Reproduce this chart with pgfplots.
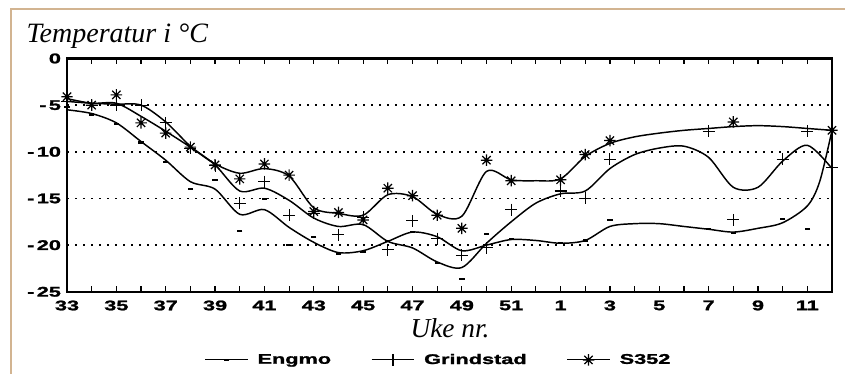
\documentclass[border=0pt]{standalone}
\usepackage{pgfplots}
\pgfplotsset{compat=1.18}
\usepackage{fontspec}
\setmainfont{Liberation Serif}
\newfontfamily\tickfont{Liberation Sans}[FakeStretch=1.55, FakeBold=1.6]
\definecolor{frametan}{RGB}{210,180,145}
\pgfdeclareplotmark{ast8}{%
  \pgfpathmoveto{\pgfqpoint{-\pgfplotmarksize}{0pt}}\pgfpathlineto{\pgfqpoint{\pgfplotmarksize}{0pt}}%
  \pgfpathmoveto{\pgfqpoint{0pt}{-\pgfplotmarksize}}\pgfpathlineto{\pgfqpoint{0pt}{\pgfplotmarksize}}%
  \pgfpathmoveto{\pgfqpoint{-.72\pgfplotmarksize}{-.72\pgfplotmarksize}}\pgfpathlineto{\pgfqpoint{.72\pgfplotmarksize}{.72\pgfplotmarksize}}%
  \pgfpathmoveto{\pgfqpoint{-.72\pgfplotmarksize}{.72\pgfplotmarksize}}\pgfpathlineto{\pgfqpoint{.72\pgfplotmarksize}{-.72\pgfplotmarksize}}%
  \pgfusepathqstroke}
\begin{document}
\begin{tikzpicture}
\path[use as bounding box] (0,0) rectangle (633.75pt,280.5pt);
\draw[frametan, line width=1.2pt] (8.25pt,0pt) -- (8.25pt,273.75pt) -- (633.75pt,273.75pt);
\node[anchor=base west, font=\itshape\fontsize{21}{24}\selectfont] at (16.5pt,248.25pt) {Temperatur i °C};
\node[anchor=base, font=\itshape\fontsize{20.5}{24}\selectfont] at (337.5pt,27pt) {Uke nr.};
\begin{axis}[
  at={(50.25pt,61.65pt)}, anchor=south west,
  width=573.75pt, height=175pt, scale only axis,
  clip=false,
  xmin=0, xmax=31, ymin=-25, ymax=0,
  xtick={0,...,31},
  xticklabels={33,{},35,{},37,{},39,{},41,{},43,{},45,{},47,{},49,{},51,{},1,{},3,{},5,{},7,{},9,{},11,{}},
  ytick={-25,-20,-15,-10,-5,0},
  yticklabels={-\,25,-\,20,-\,15,-\,10,-\,5,0},
  tick align=inside,
  major tick length=4pt,
  xtick style={black, line width=0.9pt},
  ytick style={draw=none},
  xticklabel style={font=\tickfont\bfseries\fontsize{10.5}{12}\selectfont, yshift=-3pt},
  yticklabel style={font=\tickfont\bfseries\fontsize{10.5}{12}\selectfont, xshift=-1pt},
  axis line style={line width=1.7pt},
  ymajorgrids,
  grid style={black, line width=1.2pt, dash pattern=on 1.2pt off 4.8pt},
  legend style={at={(0.486,-0.292)}, anchor=center, draw=none, fill=none,
    font=\tickfont\bfseries\fontsize{10.5}{12}\selectfont, inner sep=0pt,
    /tikz/every odd column/.append style={column sep=5pt},
    /tikz/every even column/.append style={column sep=28pt}},
  legend columns=3,
  legend image code/.code={\draw[mark repeat=2,mark phase=2,#1] plot coordinates {(0pt,0pt)(16pt,0pt)(32pt,0pt)};},
]
\addlegendimage{black, line width=0.8pt, mark=-, mark size=2pt, mark options={line width=1.6pt}}
\addlegendentry{Engmo}
\addlegendimage{black, line width=0.8pt, mark=+, mark size=4.5pt, mark options={line width=0.8pt}}
\addlegendentry{Grindstad}
\addlegendimage{black, line width=0.8pt, mark=ast8, mark size=4.3pt, mark options={line width=0.9pt}}
\addlegendentry{S352}

% Engmo curve
\addplot[forget plot, black, line width=1.1pt, smooth, no marks] coordinates {
(0,-5.5)(1,-5.9)(2,-6.9)(3,-8.9)(4,-10.9)(5,-13.2)(6,-14.0)(7,-16.7)(8,-16.2)(9,-18.1)
(10,-19.7)(11,-20.8)(12,-20.6)(13,-19.6)(14,-18.6)(15,-19.1)(16,-20.6)(17,-20.0)(18,-19.4)(19,-19.5)
(20,-19.8)(21,-19.5)(22,-18.0)(23,-17.7)(24,-17.7)(25,-18.0)(26,-18.3)(27,-18.6)(28,-18.2)(29,-17.6)
(30,-15.8)(30.5,-13.2)(31,-7.7)};
% Grindstad curve
\addplot[forget plot, black, line width=1.1pt, smooth, no marks] coordinates {
(0,-4.6)(1,-4.8)(2,-4.9)(3,-5.0)(4,-6.8)(5,-9.4)(6,-11.4)(7,-14.2)(8,-13.9)(9,-15.2)
(10,-17.1)(11,-18.0)(12,-17.8)(13,-19.6)(14,-20.3)(15,-21.8)(16,-22.4)(17,-19.8)(18,-17.5)(19,-15.5)
(20,-14.5)(21,-14.2)(22,-11.8)(23,-10.3)(24,-9.6)(25,-9.4)(26,-10.6)(27,-13.8)(28,-13.8)(29,-11.0)
(30,-9.3)(31,-11.8)};
% S352 curve
\addplot[forget plot, black, line width=1.1pt, smooth, no marks] coordinates {
(0,-4.3)(1,-4.8)(2,-4.8)(3,-6.2)(4,-7.8)(5,-9.5)(6,-11.3)(7,-12.3)(8,-11.8)(9,-12.6)
(10,-16.0)(11,-16.6)(12,-16.8)(13,-14.6)(14,-14.8)(15,-16.7)(16,-16.9)(17,-12.1)(18,-13.0)(19,-13.1)
(20,-12.9)(21,-10.5)(22,-9.1)(23,-8.4)(24,-8.0)(25,-7.7)(26,-7.5)(27,-7.3)(28,-7.2)(29,-7.3)
(30,-7.5)(31,-7.7)};

% Engmo data
\addplot[forget plot, black, only marks, mark=-, mark size=2pt, mark options={line width=1.6pt}] coordinates {
(0,-5.2)(1,-6.0)(2,-7.0)(3,-9.0)(4,-11.1)(5,-14.0)(6,-13.0)(7,-18.5)(8,-15.1)(9,-20.0)
(10,-19.1)(11,-20.9)(12,-20.7)(13,-19.6)(14,-18.6)(15,-21.9)(16,-23.6)(17,-18.8)(18,-19.3)
(20,-19.8)(21,-19.5)(22,-17.3)(26,-18.3)(27,-18.7)(29,-17.2)(30,-18.3)};
% Grindstad data
\addplot[forget plot, black, only marks, mark=+, mark size=4.5pt, mark options={line width=0.8pt}] coordinates {
(0,-4.6)(1,-5.0)(2,-5.0)(3,-5.0)(4,-6.9)(5,-9.6)(6,-11.5)(7,-15.5)(8,-13.2)(9,-16.8)
(10,-16.6)(11,-18.9)(12,-17.0)(13,-20.5)(14,-17.4)(15,-19.3)(16,-21.1)(17,-20.3)(18,-16.2)
(20,-14.2)(21,-15.0)(22,-10.8)(26,-7.8)(27,-17.3)(29,-10.8)(30,-7.8)(31,-11.7)};
% S352 data
\addplot[forget plot, black, only marks, mark=ast8, mark size=4.3pt, mark options={line width=0.9pt}] coordinates {
(0,-4.1)(1,-5.0)(2,-3.9)(3,-6.9)(4,-8.0)(5,-9.5)(6,-11.4)(7,-12.9)(8,-11.3)(9,-12.5)
(10,-16.4)(11,-16.5)(12,-17.3)(13,-13.9)(14,-14.7)(15,-16.8)(16,-18.2)(17,-10.9)(18,-13.1)
(20,-13.0)(21,-10.3)(22,-8.8)(27,-6.8)(31,-7.7)};
\end{axis}
\end{tikzpicture}
\end{document}
